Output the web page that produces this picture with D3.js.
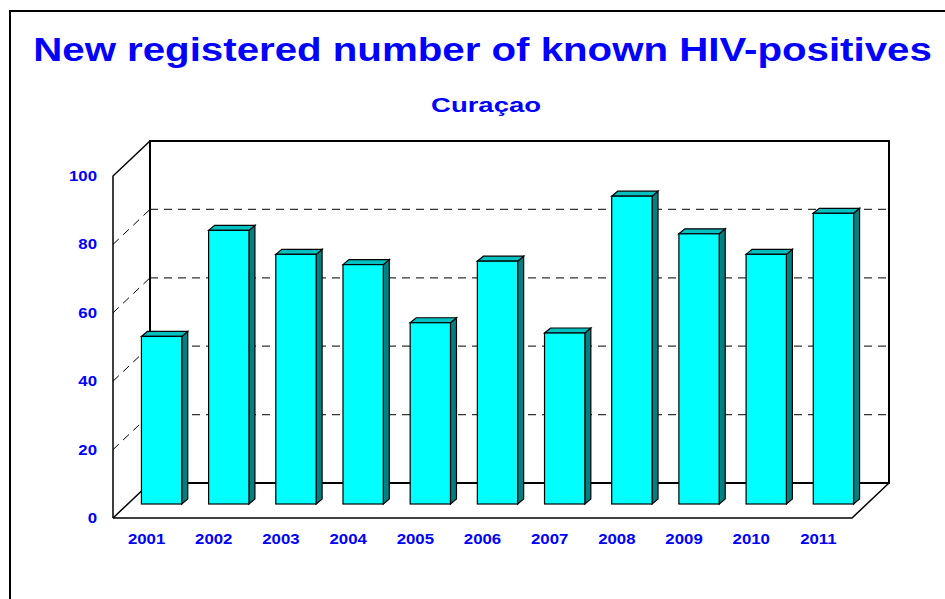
<!DOCTYPE html>
<html>
<head>
<meta charset="utf-8">
<script src="https://cdn.jsdelivr.net/npm/d3@7"></script>
<style>
  body { margin: 0; background: #fff; }
  svg { display: block; }
  text { font-family: "Liberation Sans", Arial, sans-serif; font-weight: bold; fill: #0000ff; }
</style>
</head>
<body>
<div id="chart"></div>
<script>
// chart data
var years = ["2001", "2002", "2003", "2004", "2005", "2006", "2007", "2008", "2009", "2010", "2011"];
var cases = [49, 80, 73, 70, 53, 71, 50, 90, 79, 73, 85];
var yTicks = [0, 20, 40, 60, 80, 100];

var width = 945, height = 599;

// front floor line and depth of the box
var x0 = 113, x1 = 852, floorY = 518;
var depthX = 37, depthY = -35;
// bars sit partway into the box
var barDX = 15, barDY = -14, barSideX = 6, barSideY = -5;
// the original text is stretched sideways
var stretch = 1.2;

var svg = d3.select("#chart").append("svg")
    .attr("width", width)
    .attr("height", height);

// outer frame
svg.append("rect")
    .attr("x", 10).attr("y", 11)
    .attr("width", 1000).attr("height", 700)
    .style("fill", "none").style("stroke", "#000").style("stroke-width", 2);

// stretch a text to a given width around its centre
function wideText(str, cx, y, size, w) {
    var t = svg.append("text")
        .attr("text-anchor", "middle")
        .style("font-size", size + "px")
        .text(str);
    var nat = t.node().getComputedTextLength();
    t.attr("transform", "translate(" + cx + "," + y + ") scale(" + (w / nat) + ",1)");
    return t;
}

wideText("New registered number of known HIV-positives", 482.5, 61, 32.5, 899);
wideText("Curaçao", 486, 112, 20, 110);

var x = d3.scaleBand().domain(years).range([x0, x1]).padding(0);
var h = d3.scaleLinear().domain([0, 100]).range([0, 342]);

var backL = x0 + depthX, backR = x1 + depthX, backFloor = floorY + depthY;

// back wall gridlines
yTicks.filter(function(t) { return t > 0 && t < 100; }).forEach(function(t) {
    svg.append("line")
        .attr("x1", backL).attr("x2", backR)
        .attr("y1", backFloor - h(t)).attr("y2", backFloor - h(t))
        .style("stroke", "#333").style("stroke-width", 1.2)
        .style("stroke-dasharray", "8,6");
    // side wall dashes
    svg.append("line")
        .attr("x1", x0).attr("y1", floorY - h(t))
        .attr("x2", backL).attr("y2", backFloor - h(t))
        .style("stroke", "#000").style("stroke-width", 1)
        .style("stroke-dasharray", "8,6");
});

// back wall edges
svg.append("path")
    .attr("d", "M" + backL + "," + backFloor + "V" + (backFloor - h(100)) + "H" + backR + "V" + backFloor + "H" + backL)
    .style("fill", "none").style("stroke", "#000").style("stroke-width", 2);

// side wall edges
svg.append("path")
    .attr("d", "M" + x0 + "," + floorY + "V" + (floorY - h(100)) + "L" + backL + "," + (backFloor - h(100)))
    .style("fill", "none").style("stroke", "#000").style("stroke-width", 1.5);

// floor
svg.append("path")
    .attr("d", "M" + x0 + "," + floorY + "H" + x1 + "L" + backR + "," + backFloor + "M" + x0 + "," + floorY + "L" + backL + "," + backFloor)
    .style("fill", "none").style("stroke", "#000").style("stroke-width", 1.5);

// bars
var bw = x.bandwidth() * 0.6;
var bars = svg.selectAll("g.bar")
    .data(years)
    .enter().append("g")
    .attr("class", "bar");

bars.each(function(d, i) {
    var g = d3.select(this);
    var left = x(d) + (x.bandwidth() - bw) / 2 + barDX;
    var base = floorY + barDY;
    var top = base - h(cases[i]);
    var right = left + bw;
    // side
    g.append("path")
        .attr("d", "M" + right + "," + base + "L" + (right + barSideX) + "," + (base + barSideY) +
            "L" + (right + barSideX) + "," + (top + barSideY) + "L" + right + "," + top + "Z")
        .style("fill", "#008080").style("stroke", "#000").style("stroke-width", 1.2);
    // top
    g.append("path")
        .attr("d", "M" + left + "," + top + "L" + (left + barSideX) + "," + (top + barSideY) +
            "L" + (right + barSideX) + "," + (top + barSideY) + "L" + right + "," + top + "Z")
        .style("fill", "#00c0c0").style("stroke", "#000").style("stroke-width", 1.2);
    // front
    g.append("rect")
        .attr("x", left).attr("y", top)
        .attr("width", bw).attr("height", base - top)
        .style("fill", "#00ffff").style("stroke", "#000").style("stroke-width", 1.2);
});

// y labels
svg.selectAll("text.ylab")
    .data(yTicks)
    .enter().append("text")
    .attr("class", "ylab")
    .attr("transform", function(d) { return "translate(97," + (floorY - h(d) + 5) + ") scale(" + stretch + ",1)"; })
    .attr("text-anchor", "end")
    .style("font-size", "14px")
    .text(function(d) { return d; });

// x labels
svg.selectAll("text.xlab")
    .data(years)
    .enter().append("text")
    .attr("class", "xlab")
    .attr("transform", function(d) { return "translate(" + (x(d) + x.bandwidth() / 2) + ",544) scale(" + stretch + ",1)"; })
    .attr("text-anchor", "middle")
    .style("font-size", "14px")
    .text(function(d) { return d; });
</script>
</body>
</html>
